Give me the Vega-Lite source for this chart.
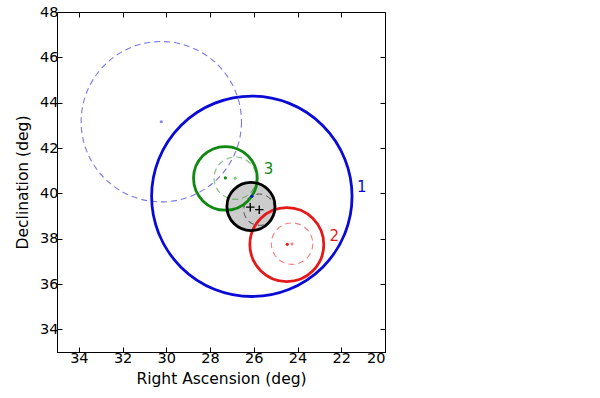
{
  "$schema": "https://vega.github.io/schema/vega-lite/v6.json",
  "width": 328,
  "height": 340,
  "autosize": {"type": "none"},
  "padding": {"left": 57, "top": 12, "right": 215, "bottom": 46},
  "background": "white",
  "config": {
    "view": {"stroke": "black", "strokeWidth": 1},
    "font": "DejaVu Sans",
    "axis": {
      "grid": false,
      "domainColor": "black",
      "tickColor": "black",
      "labelColor": "black",
      "titleColor": "black",
      "labelFont": "DejaVu Sans",
      "titleFont": "DejaVu Sans",
      "labelFontSize": 14.5,
      "titleFontSize": 15.5,
      "titleFontWeight": "normal",
      "tickSize": -5,
      "labelPadding": 4
    }
  },
  "datasets": {
    "solid": [
      {"g": "1", "ra": 26.09, "dec": 39.87, "r": 4.5},
      {"g": "2", "ra": 24.49, "dec": 37.74, "r": 1.66},
      {"g": "3", "ra": 27.3, "dec": 40.66, "r": 1.43},
      {"g": "0", "ra": 26.13, "dec": 39.42, "r": 1.08}
    ],
    "dashed": [
      {"g": "1", "ra": 30.23, "dec": 43.16, "r": 3.6},
      {"g": "2", "ra": 24.25, "dec": 37.78, "r": 0.93},
      {"g": "3", "ra": 26.85, "dec": 40.67, "r": 0.95},
      {"g": "0", "ra": 25.75, "dec": 39.28, "r": 0.7}
    ],
    "dots": [
      {"g": "1", "ra": 26.09, "dec": 39.87, "kind": "main"},
      {"g": "2", "ra": 24.47, "dec": 37.75, "kind": "main"},
      {"g": "3", "ra": 27.3, "dec": 40.68, "kind": "main"},
      {"g": "1", "ra": 30.23, "dec": 43.16, "kind": "alt"},
      {"g": "2", "ra": 24.25, "dec": 37.77, "kind": "alt"},
      {"g": "3", "ra": 26.85, "dec": 40.67, "kind": "alt"}
    ],
    "plus": [
      {"ra": 26.16, "dec": 39.39},
      {"ra": 25.75, "dec": 39.28}
    ],
    "labels": [
      {"g": "1", "ra": 21.06, "dec": 40.26, "text": "1"},
      {"g": "2", "ra": 22.32, "dec": 38.13, "text": "2"},
      {"g": "3", "ra": 25.33, "dec": 41.08, "text": "3"}
    ]
  },
  "resolve": {"axis": {"x": "independent", "y": "independent"}},
  "layer": [
    {
      "data": {"name": "solid"},
      "transform": [{"filter": {"field": "g", "equal": "0"}}],
      "mark": {"type": "point", "shape": "circle", "filled": true, "fill": "#cccccc", "opacity": 1, "stroke": null, "strokeWidth": 0},
      "encoding": {
        "x": {"field": "ra", "type": "quantitative", "scale": {"domain": [35, 20], "nice": false, "zero": false},
          "axis": {"orient": "bottom", "values": [34, 32, 30, 28, 26, 24, 22, 20], "title": "Right Ascension (deg)", "titlePadding": 7}},
        "y": {"field": "dec", "type": "quantitative", "scale": {"domain": [33, 48], "nice": false, "zero": false},
          "axis": {"orient": "left", "values": [34, 36, 38, 40, 42, 44, 46, 48], "title": "Declination (deg)", "titlePadding": 9}},
        "size": {"field": "r", "type": "quantitative", "scale": {"type": "pow", "exponent": 2, "domain": [0, 5], "range": [0, 49595], "zero": true, "nice": false}, "legend": null}
      }
    },
    {
      "data": {"name": "dashed"},
      "mark": {"type": "point", "shape": "circle", "filled": false, "strokeWidth": 1.1, "strokeDash": [6, 4], "strokeOpacity": 0.55, "opacity": 1},
      "encoding": {
        "x": {"field": "ra", "type": "quantitative", "axis": null},
        "y": {"field": "dec", "type": "quantitative", "axis": null},
        "size": {"field": "r", "type": "quantitative", "scale": {"type": "pow", "exponent": 2, "domain": [0, 5], "range": [0, 49595], "zero": true, "nice": false}, "legend": null},
        "color": {"field": "g", "type": "nominal", "scale": {"domain": ["1", "2", "3", "0"], "range": ["#0a0ad6", "#e41a1a", "#118811", "#000000"]}, "legend": null}
      }
    },
    {
      "data": {"name": "solid"},
      "mark": {"type": "point", "shape": "circle", "filled": false, "strokeWidth": 2.8, "opacity": 1},
      "encoding": {
        "x": {"field": "ra", "type": "quantitative", "axis": null},
        "y": {"field": "dec", "type": "quantitative", "axis": null},
        "size": {"field": "r", "type": "quantitative", "scale": {"type": "pow", "exponent": 2, "domain": [0, 5], "range": [0, 49595], "zero": true, "nice": false}, "legend": null},
        "color": {"field": "g", "type": "nominal", "scale": {"domain": ["1", "2", "3", "0"], "range": ["#0a0ad6", "#e41a1a", "#118811", "#000000"]}, "legend": null}
      }
    },
    {
      "data": {"name": "dots"},
      "mark": {"type": "point", "shape": "circle", "filled": true, "size": 10},
      "encoding": {
        "x": {"field": "ra", "type": "quantitative", "axis": null},
        "y": {"field": "dec", "type": "quantitative", "axis": null},
        "color": {"field": "g", "type": "nominal", "scale": {"domain": ["1", "2", "3", "0"], "range": ["#0a0ad6", "#e41a1a", "#118811", "#000000"]}, "legend": null},
        "opacity": {"field": "kind", "type": "nominal", "scale": {"domain": ["main", "alt"], "range": [1, 0.5]}, "legend": null}
      }
    },
    {
      "data": {"name": "plus"},
      "mark": {"type": "point", "shape": "M-1,0L1,0M0,-1L0,1", "filled": false, "size": 72, "stroke": "black", "strokeWidth": 1.4, "opacity": 1},
      "encoding": {
        "x": {"field": "ra", "type": "quantitative", "axis": null},
        "y": {"field": "dec", "type": "quantitative", "axis": null}
      }
    },
    {
      "data": {"name": "labels"},
      "mark": {"type": "text", "fontSize": 15, "align": "center", "baseline": "middle", "font": "DejaVu Sans"},
      "encoding": {
        "x": {"field": "ra", "type": "quantitative", "axis": {"orient": "top", "values": [34, 32, 30, 28, 26, 24, 22, 20], "labels": false, "title": null, "domain": false}},
        "y": {"field": "dec", "type": "quantitative", "axis": {"orient": "right", "values": [34, 36, 38, 40, 42, 44, 46, 48], "labels": false, "title": null, "domain": false}},
        "text": {"field": "text", "type": "nominal"},
        "color": {"field": "g", "type": "nominal", "scale": {"domain": ["1", "2", "3", "0"], "range": ["#0a0ad6", "#e41a1a", "#118811", "#000000"]}, "legend": null}
      }
    }
  ]
}
